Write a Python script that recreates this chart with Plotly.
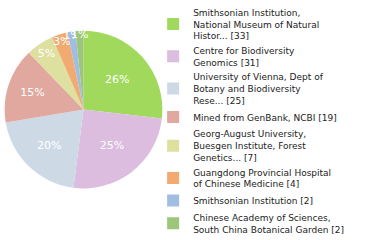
import math
import plotly.graph_objects as go

labels = [
    "Smithsonian Institution,<br>National Museum of Natural<br>Histor... [33]",
    "Centre for Biodiversity<br>Genomics [31]",
    "University of Vienna, Dept of<br>Botany and Biodiversity<br>Rese... [25]",
    "Mined from GenBank, NCBI [19]",
    "Georg-August University,<br>Buesgen Institute, Forest<br>Genetics... [7]",
    "Guangdong Provincial Hospital<br>of Chinese Medicine [4]",
    "Smithsonian Institution [2]",
    "Chinese Academy of Sciences,<br>South China Botanical Garden [2]",
    "0 Others []",
]
values = [33, 31, 25, 19, 7, 4, 2, 2, 0]
colors = ["#a0d95b", "#dcbcdf", "#cddae6", "#e0a89e", "#dde09e",
          "#f1aa70", "#a1bde2", "#9dc67a", "#e57a5c"]

total = sum(values)
texts = [f"{math.floor(v * 100 / total)}%" if v > 0 else "" for v in values]

fig = go.Figure(go.Pie(
    labels=labels,
    values=values,
    text=texts,
    textinfo="text",
    textposition="inside",
    insidetextorientation="horizontal",
    textfont=dict(color="white", size=11, family="DejaVu Sans"),
    marker=dict(colors=colors, line=dict(width=0)),
    sort=False,
    direction="clockwise",
    rotation=0,
    domain=dict(x=[0.006, 0.4335], y=[0.2215, 0.8985]),
    hoverinfo="label+value",
))
fig.update_layout(
    width=380, height=240,
    margin=dict(l=0, r=0, t=0, b=0),
    paper_bgcolor="white",
    uniformtext=dict(minsize=11, mode="show"),
    legend=dict(x=0.403, y=1.03, xanchor="left", yanchor="top",
                font=dict(size=9, family="DejaVu Sans", color="#222"),
                tracegroupgap=0, itemwidth=30, bgcolor="rgba(0,0,0,0)",
                maxheight=1000),
    showlegend=True,
)
fig.write_html("out.html")
